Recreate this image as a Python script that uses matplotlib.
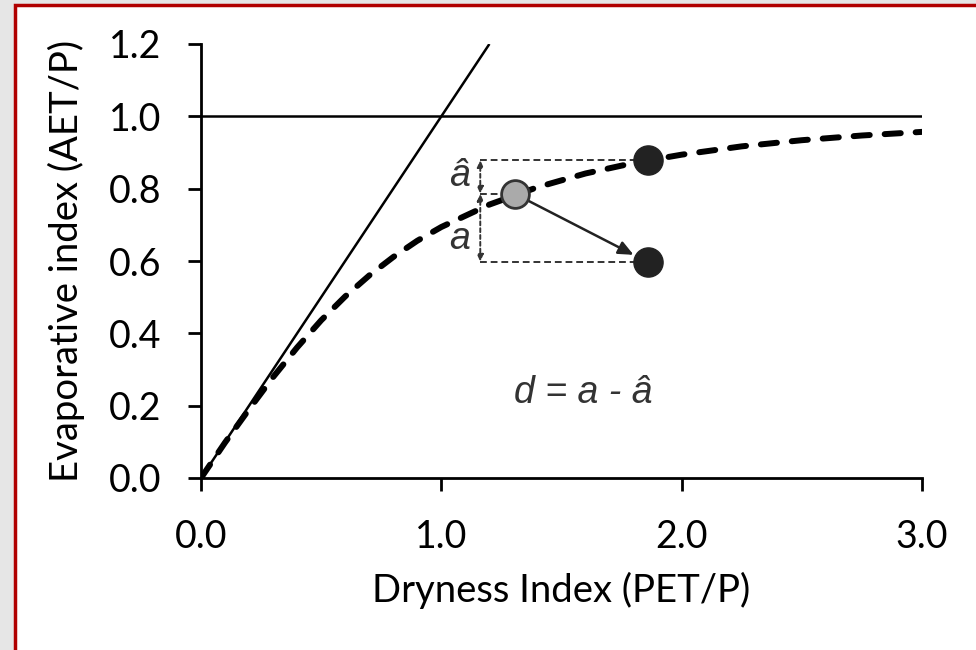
import numpy as np
import matplotlib.pyplot as plt
from matplotlib.patches import Rectangle

# Budyko-type curve
dryness = [0.0, 0.1, 0.2, 0.3, 0.4, 0.5, 0.6, 0.7, 0.8, 0.9, 1.0, 1.2, 1.4,
           1.6, 1.8, 2.0, 2.25, 2.5, 2.75, 3.0]
evap = [0.0, 0.098, 0.19, 0.279, 0.361, 0.436, 0.502, 0.56, 0.611, 0.656,
        0.694, 0.756, 0.804, 0.842, 0.871, 0.894, 0.917, 0.934, 0.947, 0.957]

energy_x = [0.0, 1.2]
energy_y = [0.0, 1.2]
water_x = [0.0, 3.0]
water_y = [1.0, 1.0]

obs_x, obs_y = 1.305, 0.786        # grey point
pred_x, pred_y = 1.86, 0.879       # point on curve
new_x, new_y = 1.86, 0.598         # shifted point
tip_x, tip_y = 1.8, 0.617          # arrow tip
guide_x = 1.162

xticks = [0.0, 1.0, 2.0, 3.0]
yticks = [0.0, 0.2, 0.4, 0.6, 0.8, 1.0, 1.2]

fig = plt.figure(figsize=(9.76, 6.5), dpi=100, facecolor="#e6e6e6")
fig.patches.append(Rectangle((14.5 / 976, -0.1), 1.2, 1.1 - 4.5 / 650,
                             transform=fig.transFigure, facecolor="white",
                             edgecolor="#b00000", linewidth=2.5, zorder=-5))

ax = fig.add_axes([201 / 976, 1 - 478 / 650, 721 / 976, 434 / 650])
ax.set_facecolor("none")

ax.plot(energy_x, energy_y, color="k", lw=1.8, solid_capstyle="butt")
ax.plot(water_x, water_y, color="k", lw=1.8)
ax.plot(dryness, evap, color="k", lw=4.3, linestyle=(0, (2.7, 2.5)),
        dash_capstyle="round")

dot = dict(color="#333333", lw=1.4, linestyle=(0, (3.5, 2)))
ax.plot([guide_x, pred_x], [pred_y, pred_y], **dot)
ax.plot([guide_x, new_x], [new_y, new_y], **dot)
ax.plot([guide_x, obs_x], [obs_y, obs_y], **dot)

arr = dict(arrowstyle="<|-|>,head_length=0.4,head_width=0.18", color="#333333",
           lw=1.4, linestyle=(0, (2, 1.5)), shrinkA=0, shrinkB=0)
ax.annotate("", xy=(guide_x, pred_y), xytext=(guide_x, obs_y), arrowprops=arr)
ax.annotate("", xy=(guide_x, obs_y), xytext=(guide_x, new_y), arrowprops=arr)

ax.annotate("", xy=(tip_x, tip_y), xytext=(obs_x, obs_y),
            arrowprops=dict(arrowstyle="-|>,head_length=0.9,head_width=0.4",
                            color="#222222", lw=1.8, shrinkA=0, shrinkB=0))

ax.plot([pred_x, new_x], [pred_y, new_y], "o", color="#222222", ms=21,
        linestyle="none", zorder=5)
ax.plot([obs_x], [obs_y], "o", color="#aaaaaa", mec="#333333", mew=2, ms=20,
        zorder=5)

txt = dict(family="Liberation Sans", style="italic", color="#333333")
ax.text(1.075, 0.835, "\u00e2", ha="center", va="center", fontsize=27, **txt)
ax.text(1.075, 0.66, "a", ha="center", va="center", fontsize=27, **txt)
ax.text(1.59, 0.235, "d = a - \u00e2", ha="center", va="center",
        fontsize=27, **txt)

ax.set_xlim(0, 3)
ax.set_ylim(0, 1.2)
ax.set_xticks(xticks)
ax.set_yticks(yticks)
ax.set_xticklabels([f"{v:.1f}" for v in xticks], family="Lato", fontsize=27)
ax.set_yticklabels([f"{v:.1f}" for v in yticks], family="Lato", fontsize=27)
ax.tick_params(direction="out", length=9.5, width=2)
ax.tick_params(axis="x", pad=20)
ax.tick_params(axis="y", pad=19)
for s in ["top", "right"]:
    ax.spines[s].set_visible(False)
for s in ["left", "bottom"]:
    ax.spines[s].set_linewidth(2)
ax.spines["left"].set_zorder(6)

ax.set_xlabel("Dryness Index (PET/P)", family="Lato", fontsize=27.5,
              labelpad=12)
ax.set_ylabel("Evaporative index (AET/P)", family="Lato", fontsize=27.5,
              labelpad=17)

fig.savefig("out.png", dpi=100, facecolor=fig.get_facecolor())
